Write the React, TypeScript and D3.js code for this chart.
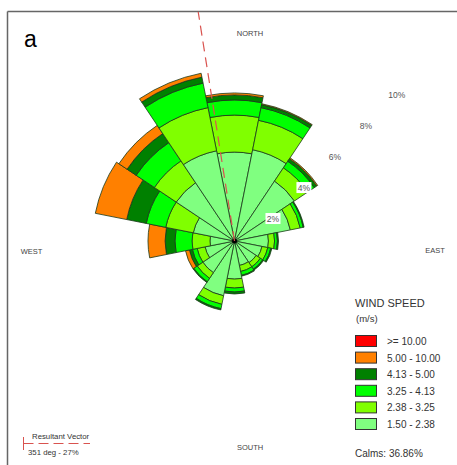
import React from 'react';
import * as d3 from 'd3';

const W = 457;
const H = 465;

const directions = ['N', 'NNE', 'NE', 'ENE', 'E', 'ESE', 'SE', 'SSE', 'S', 'SSW', 'SW', 'WSW', 'W', 'WNW', 'NW', 'NNW'];

// frequency (%) per direction for each wind speed class
const class150 = [4.06, 4.25, 3.29, 2.6, 1.55, 1.28, 1.19, 1.14, 1.74, 2.55, 1.74, 1.37, 1.12, 1.92, 3.2, 4.2];
const class238 = [1.69, 1.37, 0.73, 0.46, 0.28, 0.27, 0.23, 0.28, 0.41, 0.4, 0.31, 0.37, 0.82, 1.28, 1.2, 2.01];
const class325 = [0.69, 0.59, 0.36, 0.14, 0.13, 0.14, 0.13, 0.18, 0.18, 0.2, 0.19, 0.22, 0.78, 0.91, 1.0, 1.14];
const class413 = [0.23, 0.14, 0.14, 0.04, 0.05, 0.05, 0.05, 0.04, 0.09, 0.06, 0.04, 0.14, 0.45, 0.91, 0.5, 0.28];
const class500 = [0.09, 0.04, 0.05, 0.0, 0.0, 0.0, 0.0, 0.0, 0.0, 0.0, 0.0, 0.18, 0.78, 1.46, 0.45, 0.18];
const class1000 = [0, 0, 0, 0, 0, 0, 0, 0, 0, 0, 0, 0, 0, 0, 0, 0];

const classSeries = [class150, class238, class325, class413, class500, class1000];
const classColors = ['#80ff80', '#80ff00', '#00ff00', '#008000', '#ff8000', '#ff0000'];

const legendLabels = ['>= 10.00', '5.00 - 10.00', '4.13 - 5.00', '3.25 - 4.13', '2.38 - 3.25', '1.50 - 2.38'];
const legendColors = ['#ff0000', '#ff8000', '#008000', '#00ff00', '#80ff00', '#80ff80'];

const ringTicks = [2, 4, 6, 8, 10];
const calmsText = 'Calms: 36.86%';
const resultantDeg = 351;
const resultantText = '351 deg - 27%';

const FONT = 'Liberation Sans, Arial, sans-serif';

export default function App() {
  const cx = 234.5;
  const cy = 241;
  const r = d3.scaleLinear().domain([0, 10]).range([0, 219]);
  const step = (2 * Math.PI) / directions.length;
  const arc = d3.arc<any>();

  const segments: any[] = [];
  directions.forEach((d, i) => {
    let cum = 0;
    classSeries.forEach((series, k) => {
      const v = series[i];
      if (v <= 0) return;
      const inner = cum;
      cum += v;
      segments.push({
        key: `${d}-${k}`,
        path: arc({
          innerRadius: r(inner),
          outerRadius: r(cum),
          startAngle: i * step - step / 2,
          endAngle: i * step + step / 2,
        }),
        color: classColors[k],
      });
    });
  });

  const rad = (resultantDeg * Math.PI) / 180;
  const vecLen = 232;
  const vx = cx + Math.sin(rad) * vecLen;
  const vy = cy - Math.cos(rad) * vecLen;

  const labelAngle = Math.PI / 4;

  return (
    <svg width={W} height={H} style={{ position: 'absolute', left: 0, top: 0, background: '#fff' }} fontFamily={FONT}>
      <rect x={0} y={0} width={W} height={H} fill="#fff" />
      {/* frame */}
      <line x1={7.5} y1={11.5} x2={W} y2={11.5} stroke="#666" strokeWidth={1.5} />
      <line x1={7.5} y1={11.5} x2={7.5} y2={H} stroke="#666" strokeWidth={1.5} />
      <text x={24} y={47} fontSize={23} fill="#000">a</text>

      {/* direction labels */}
      <text x={250} y={36} fontSize={7.5} fill="#444" textAnchor="middle">NORTH</text>
      <text x={250} y={450} fontSize={7.5} fill="#444" textAnchor="middle">SOUTH</text>
      <text x={31.5} y={254} fontSize={7.5} fill="#444" textAnchor="middle">WEST</text>
      <text x={435} y={253} fontSize={7.5} fill="#444" textAnchor="middle">EAST</text>

      {/* rose */}
      <g transform={`translate(${cx},${cy})`}>
        {segments.map((s) => (
          <path key={s.key} d={s.path} fill={s.color} stroke="#1a3a1a" strokeWidth={0.8} />
        ))}
        <circle r={2.5} fill="#000" />
      </g>

      {/* ring labels */}
      {ringTicks.map((t) => {
        const x = cx + Math.sin(labelAngle) * r(t) + 7.5;
        const y = cy - Math.cos(labelAngle) * r(t) + 8.5;
        return (
          <g key={t}>
            <rect x={x - (t >= 10 ? 10 : 7.5)} y={y - 5.5} width={t >= 10 ? 20 : 15} height={11} fill="#fff" />
            <text x={x} y={y + 3} fontSize={8.5} fill="#555" textAnchor="middle">{t}%</text>
          </g>
        );
      })}

      {/* resultant vector */}
      <line x1={cx} y1={cy} x2={vx} y2={vy} stroke="#d9534f" strokeWidth={1.2} strokeDasharray="10,6" />

      {/* legend */}
      <text x={355} y={307} fontSize={11} fill="#333">WIND SPEED</text>
      <text x={356} y={322} fontSize={9.5} fill="#333">(m/s)</text>
      {legendLabels.map((l, i) => (
        <g key={l}>
          <rect x={355.5} y={335.5 + i * 16.6} width={21} height={11} fill={legendColors[i]} stroke="#333" strokeWidth={1} />
          <text x={387} y={345 + i * 16.6} fontSize={10} fill="#333">{l}</text>
        </g>
      ))}
      <text x={355} y={457} fontSize={10} fill="#333">{calmsText}</text>

      {/* resultant vector legend */}
      <line x1={23.5} y1={437} x2={23.5} y2={450} stroke="#d9534f" strokeWidth={1} />
      <line x1={23.5} y1={443.5} x2={90} y2={443.5} stroke="#d9534f" strokeWidth={1} strokeDasharray="10,5" />
      <text x={32} y={439} fontSize={7.8} fill="#333">Resultant Vector</text>
      <text x={28} y={455} fontSize={7.8} fill="#333">{resultantText}</text>
    </svg>
  );
}
